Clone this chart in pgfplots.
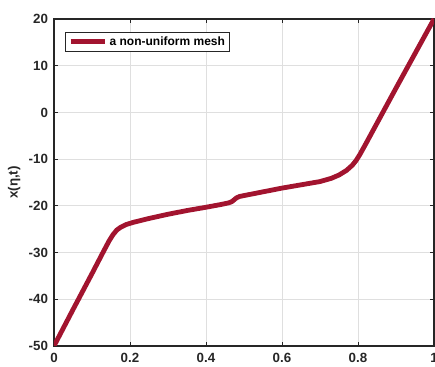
\documentclass[border=0pt]{standalone}
\usepackage{pgfplots}
\pgfplotsset{compat=1.18}
\usepackage{fontspec}
\setmainfont{Liberation Sans}
\definecolor{mred}{RGB}{162,20,47}
\definecolor{axgray}{RGB}{38,38,38}
\definecolor{gridgray}{RGB}{223,223,223}
\begin{document}
\begin{tikzpicture}
\begin{axis}[
  scale only axis,
  width=285pt, height=245.25pt,
  xmin=0, xmax=1, ymin=-50, ymax=20,
  xtick={0,0.2,0.4,0.6,0.8,1},
  ytick={-50,-40,-30,-20,-10,0,10,20},
  xticklabels={0,0.2,0.4,0.6,0.8,1},
  tick align=inside,
  major tick length=3pt,
  tick style={axgray, line width=0.75pt},
  axis line style={axgray, line width=0.9pt},
  grid=major,
  major grid style={gridgray, line width=0.75pt},
  /pgf/number format/assume math mode=true,
  ticklabel style={font=\fontsize{10}{12}\selectfont\bfseries, text=axgray},
  yticklabel style={xshift=-1pt},
  xticklabel style={yshift=-2pt},
  ylabel={x(η,t)},
  ylabel style={font=\fontsize{10}{12}\selectfont\bfseries, text=axgray,
    at={(axis description cs:-0.105,0.5)}, anchor=center},
  legend style={at={(0,1)}, anchor=north west, xshift=8.25pt, yshift=-9.75pt,
    draw=axgray, line width=0.75pt, fill=white,
    font=\fontsize{9}{10.8}\selectfont\bfseries,
    inner xsep=2pt, inner ysep=1.5pt,
    nodes={inner sep=1.5pt, text=black}},
  legend cell align=left,
  legend image code/.code={\draw[#1, line cap=butt] (0pt,0pt) -- (26pt,0pt);},
]
\addplot[mred, line width=3.6pt, line join=round] coordinates {
(0,-50) (0.05,-42.2) (0.10,-34.5) (0.13,-29.8) (0.145,-27.5) (0.155,-26.2)
(0.165,-25.2) (0.175,-24.6) (0.19,-24.0) (0.21,-23.5) (0.25,-22.7)
(0.30,-21.8) (0.35,-21.0) (0.40,-20.3) (0.44,-19.7) (0.46,-19.35)
(0.468,-19.1) (0.474,-18.7) (0.480,-18.3) (0.488,-18.0) (0.50,-17.8)
(0.55,-17.0) (0.60,-16.2) (0.65,-15.5) (0.70,-14.8) (0.73,-14.1)
(0.75,-13.4) (0.77,-12.4) (0.785,-11.3) (0.795,-10.3) (0.805,-9.0)
(0.82,-6.8) (0.90,5.2) (1.00,20)
};
\addlegendentry{a non-uniform mesh}
\coordinate (bl) at (rel axis cs:0,0);
\coordinate (tr) at (rel axis cs:1,1);
\end{axis}
\pgfresetboundingbox
\path[use as bounding box] ([shift={(-40.5pt,-15.75pt)}]bl) rectangle ([shift={(0.75pt,14.25pt)}]tr);
\end{tikzpicture}
\end{document}
